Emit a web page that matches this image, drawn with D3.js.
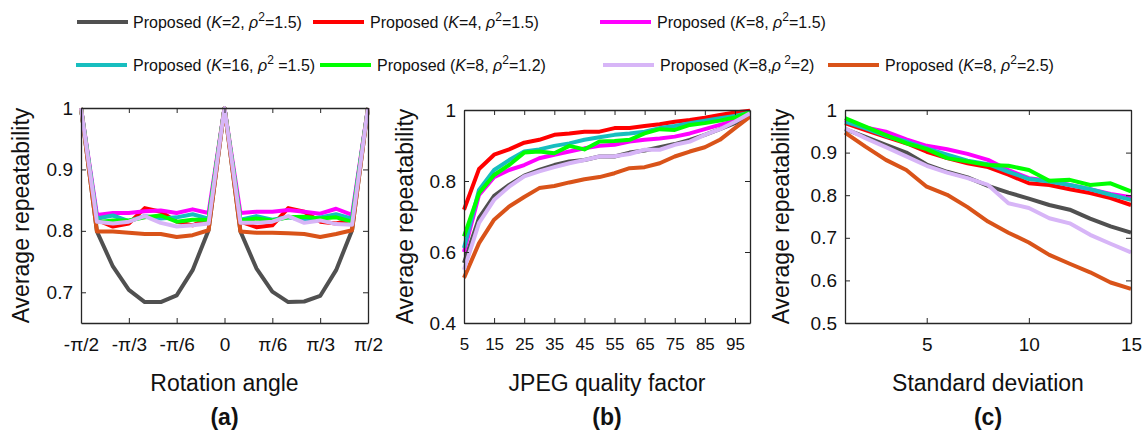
<!DOCTYPE html>
<html>
<head>
<meta charset="utf-8">
<script src="https://cdn.jsdelivr.net/npm/d3@7"></script>
<style>
  body { margin: 0; background: #fff; }
  svg { font-family: "Liberation Sans", Arial, sans-serif; }
</style>
</head>
<body>
<div id="chart"></div>
<script>
// Series names (legend) and colours
const seriesKeys = ["k2", "k4", "k8", "k16", "r12", "r2", "r25"];
const seriesColors = {
  k2: "#505050", k4: "#ff0000", k8: "#ff00ff", k16: "#17bebf",
  r12: "#00ff00", r2: "#d7b5f7", r25: "#d95319"
};
// draw order (lavender ends up on top in panel a)
const drawOrder = ["k2", "k4", "k8", "k16", "r12", "r25", "r2"];

// Panel (a): rotation angle in degrees
const angleX = [-90, -80, -70, -60, -50, -40, -30, -20, -10, 0, 10, 20, 30, 40, 50, 60, 70, 80, 90];
const angleData = {
  k2:  [1, 0.799, 0.742, 0.704, 0.684, 0.684, 0.695, 0.736, 0.801, 1, 0.799, 0.739, 0.701, 0.684, 0.685, 0.694, 0.736, 0.801, 1],
  k4:  [1, 0.818, 0.807, 0.812, 0.837, 0.831, 0.815, 0.809, 0.820, 1, 0.815, 0.806, 0.809, 0.837, 0.831, 0.815, 0.812, 0.818, 1],
  k8:  [1, 0.826, 0.829, 0.829, 0.832, 0.833, 0.829, 0.835, 0.829, 1, 0.829, 0.831, 0.831, 0.834, 0.831, 0.828, 0.836, 0.826, 1],
  k16: [1, 0.820, 0.825, 0.816, 0.824, 0.820, 0.822, 0.827, 0.820, 1, 0.818, 0.824, 0.818, 0.822, 0.818, 0.822, 0.827, 0.820, 1],
  r12: [1, 0.814, 0.817, 0.817, 0.822, 0.825, 0.815, 0.818, 0.818, 1, 0.817, 0.820, 0.817, 0.822, 0.823, 0.820, 0.822, 0.815, 1],
  r2:  [1, 0.815, 0.812, 0.815, 0.824, 0.813, 0.807, 0.809, 0.812, 1, 0.813, 0.813, 0.815, 0.824, 0.813, 0.817, 0.811, 0.810, 1],
  r25: [1, 0.799, 0.799, 0.797, 0.795, 0.795, 0.790, 0.793, 0.801, 1, 0.799, 0.797, 0.797, 0.796, 0.795, 0.790, 0.795, 0.801, 1]
};
const angleTicks = [-90, -60, -30, 0, 30, 60, 90];
const angleTickLabels = ["-\u03c0/2", "-\u03c0/3", "-\u03c0/6", "0", "\u03c0/6", "\u03c0/3", "\u03c0/2"];

// Panel (b): JPEG quality factor
const jpegX = [5, 10, 15, 20, 25, 30, 35, 40, 45, 50, 55, 60, 65, 70, 75, 80, 85, 90, 95, 100];
const jpegData = {
  k2:  [0.569, 0.696, 0.758, 0.789, 0.815, 0.831, 0.845, 0.855, 0.859, 0.869, 0.869, 0.880, 0.886, 0.895, 0.904, 0.916, 0.930, 0.946, 0.963, 0.986],
  k4:  [0.719, 0.834, 0.874, 0.889, 0.908, 0.916, 0.930, 0.934, 0.939, 0.939, 0.949, 0.949, 0.955, 0.960, 0.967, 0.972, 0.978, 0.986, 0.993, 0.998],
  k8:  [0.600, 0.761, 0.811, 0.831, 0.845, 0.864, 0.874, 0.883, 0.892, 0.899, 0.902, 0.911, 0.916, 0.920, 0.925, 0.934, 0.946, 0.958, 0.970, 0.986],
  k16: [0.611, 0.775, 0.831, 0.859, 0.883, 0.889, 0.899, 0.906, 0.916, 0.923, 0.930, 0.934, 0.939, 0.949, 0.955, 0.963, 0.970, 0.977, 0.983, 0.993],
  r12: [0.644, 0.766, 0.817, 0.845, 0.880, 0.883, 0.878, 0.899, 0.889, 0.911, 0.913, 0.916, 0.934, 0.946, 0.944, 0.958, 0.963, 0.970, 0.979, 0.993],
  r2:  [0.550, 0.682, 0.747, 0.784, 0.813, 0.827, 0.839, 0.850, 0.859, 0.869, 0.870, 0.876, 0.888, 0.888, 0.902, 0.911, 0.930, 0.946, 0.967, 0.991],
  r25: [0.527, 0.625, 0.691, 0.728, 0.755, 0.780, 0.786, 0.796, 0.805, 0.811, 0.822, 0.836, 0.839, 0.850, 0.869, 0.883, 0.895, 0.916, 0.949, 0.981]
};
const jpegTicks = [5, 15, 25, 35, 45, 55, 65, 75, 85, 95];

// Panel (c): noise standard deviation
const noiseX = [1, 2, 3, 4, 5, 6, 7, 8, 9, 10, 11, 12, 13, 14, 15];
const noiseData = {
  k2:  [0.955, 0.937, 0.918, 0.900, 0.872, 0.855, 0.842, 0.822, 0.806, 0.792, 0.777, 0.766, 0.745, 0.727, 0.712],
  k4:  [0.969, 0.953, 0.937, 0.922, 0.902, 0.887, 0.875, 0.866, 0.848, 0.828, 0.824, 0.814, 0.805, 0.793, 0.777],
  k8:  [0.977, 0.959, 0.949, 0.931, 0.916, 0.908, 0.897, 0.883, 0.859, 0.840, 0.834, 0.824, 0.814, 0.803, 0.795],
  k16: [0.973, 0.957, 0.939, 0.926, 0.910, 0.895, 0.881, 0.873, 0.855, 0.838, 0.832, 0.824, 0.814, 0.801, 0.789],
  r12: [0.981, 0.961, 0.941, 0.922, 0.908, 0.887, 0.879, 0.871, 0.869, 0.859, 0.834, 0.836, 0.824, 0.828, 0.809],
  r2:  [0.957, 0.934, 0.913, 0.891, 0.869, 0.853, 0.840, 0.824, 0.781, 0.770, 0.746, 0.734, 0.707, 0.686, 0.666],
  r25: [0.947, 0.914, 0.883, 0.859, 0.820, 0.801, 0.772, 0.738, 0.712, 0.689, 0.660, 0.639, 0.619, 0.595, 0.580]
};
const noiseTicks = [5, 10, 15];

const svg = d3.select("#chart").append("svg")
  .attr("width", 1142)
  .attr("height", 432);

svg.append("rect").attr("width", 1142).attr("height", 432).attr("fill", "#fff");

/////////////////////////// Legend ///////////////////////////
const legendItems = [
  {key: "k2",  x1: 77,  y: 22, tx: 133, K: "2",  r: "=1.5"},
  {key: "k4",  x1: 313, y: 22, tx: 370, K: "4",  r: "=1.5"},
  {key: "k8",  x1: 600, y: 22, tx: 657, K: "8",  r: "=1.5"},
  {key: "k16", x1: 76,  y: 65, tx: 133, K: "16", r: "\u00a0=1.5"},
  {key: "r12", x1: 320, y: 65, tx: 377, K: "8",  r: "=1.2"},
  {key: "r2",  x1: 603, y: 65, tx: 660, K: "8",  r: "=2", tight: true},
  {key: "r25", x1: 828, y: 65, tx: 885, K: "8",  r: "=2.5"}
];

const legend = svg.append("g").attr("class", "legend");
legendItems.forEach(function(d) {
  legend.append("line")
    .attr("x1", d.x1).attr("x2", d.x1 + 51)
    .attr("y1", d.y).attr("y2", d.y)
    .attr("stroke", seriesColors[d.key])
    .attr("stroke-width", 4);
  const t = legend.append("text")
    .attr("x", d.tx).attr("y", d.y + 6)
    .style("font-size", "16px")
    .attr("fill", "#111");
  t.append("tspan").text("Proposed (");
  t.append("tspan").style("font-style", "italic").text("K");
  t.append("tspan").text("=" + d.K + (d.tight ? "," : ",\u00a0"));
  t.append("tspan").style("font-style", "italic").text("\u03c1");
  t.append("tspan").attr("dy", -7).style("font-size", "12px").text((d.tight ? "\u00a0" : "") + "2");
  t.append("tspan").attr("dy", 7).text(d.r + ")");
});

/////////////////////////// Panels ///////////////////////////
function panel(opts) {
  const x = d3.scaleLinear().domain(opts.xDomain).range([opts.left, opts.right]);
  const y = d3.scaleLinear().domain(opts.yDomain).range([opts.bottom, opts.top]);
  const g = svg.append("g");
  const axisColor = "#262626";

  // data lines
  const line = d3.line()
    .x(function(d) { return x(d[0]); })
    .y(function(d) { return y(d[1]); });

  drawOrder.forEach(function(k) {
    g.append("path")
      .datum(opts.xs.map(function(v, i) { return [v, opts.data[k][i]]; }))
      .attr("d", line)
      .attr("fill", "none")
      .attr("stroke", seriesColors[k])
      .attr("stroke-width", 4)
      .attr("stroke-linejoin", "round");
  });

  // box with inward ticks (all four sides)
  const bottomAxis = d3.axisBottom(x).tickValues(opts.xTicks).tickSizeInner(-5).tickSizeOuter(0)
    .tickFormat(function(d, i) { return opts.xLabels ? opts.xLabels[i] : d; }).tickPadding(15);
  const topAxis = d3.axisTop(x).tickValues(opts.xTicks).tickSizeInner(-5).tickSizeOuter(0).tickFormat("");
  const leftAxis = d3.axisLeft(y).tickValues(opts.yTicks).tickSizeInner(-5).tickSizeOuter(0)
    .tickFormat(d3.format("~g")).tickPadding(8);
  const rightAxis = d3.axisRight(y).tickValues(opts.yTicks).tickSizeInner(-5).tickSizeOuter(0).tickFormat("");

  [
    [bottomAxis, "translate(0," + opts.bottom + ")", opts.xTickSize],
    [topAxis, "translate(0," + opts.top + ")", 19],
    [leftAxis, "translate(" + opts.left + ",0)", 19],
    [rightAxis, "translate(" + opts.right + ",0)", 19]
  ].forEach(function(a) {
    const ag = g.append("g").attr("transform", a[1]).call(a[0]);
    ag.select(".domain").attr("stroke", axisColor).attr("stroke-width", 1.3);
    ag.selectAll(".tick line").attr("stroke", axisColor).attr("stroke-width", 1);
    ag.selectAll(".tick text")
      .attr("fill", "#111")
      .style("font-size", a[2] + "px")
      .style("font-family", "'Liberation Sans', Arial, sans-serif");
  });

  const cx = (opts.left + opts.right) / 2;

  // y axis title
  g.append("text")
    .attr("transform", "translate(" + opts.yLabelX + "," + ((opts.top + opts.bottom) / 2) + ") rotate(-90)")
    .attr("text-anchor", "middle")
    .style("font-size", "23px")
    .attr("fill", "#111")
    .text("Average repeatability");

  // x axis title
  g.append("text")
    .attr("x", cx).attr("y", 391)
    .attr("text-anchor", "middle")
    .style("font-size", "23px")
    .attr("fill", "#111")
    .text(opts.xTitle);

  // panel tag
  g.append("text")
    .attr("x", cx).attr("y", 425)
    .attr("text-anchor", "middle")
    .style("font-size", "23px")
    .style("font-weight", "bold")
    .attr("fill", "#111")
    .text(opts.tag);
}

panel({
  left: 81, right: 368, top: 108, bottom: 323,
  xDomain: [-90, 90], yDomain: [0.65, 1],
  xs: angleX, data: angleData,
  xTicks: angleTicks, xLabels: angleTickLabels, xTickSize: 19,
  yTicks: [0.7, 0.8, 0.9, 1],
  yLabelX: 29, xTitle: "Rotation angle", tag: "(a)"
});

panel({
  left: 464, right: 750, top: 110, bottom: 323,
  xDomain: [5, 100], yDomain: [0.4, 1],
  xs: jpegX, data: jpegData,
  xTicks: jpegTicks, xTickSize: 17,
  yTicks: [0.4, 0.6, 0.8, 1],
  yLabelX: 413, xTitle: "JPEG quality factor", tag: "(b)"
});

panel({
  left: 845, right: 1131, top: 110, bottom: 323,
  xDomain: [1, 15], yDomain: [0.5, 1],
  xs: noiseX, data: noiseData,
  xTicks: noiseTicks, xTickSize: 19,
  yTicks: [0.5, 0.6, 0.7, 0.8, 0.9, 1],
  yLabelX: 789, xTitle: "Standard deviation", tag: "(c)"
});
</script>
</body>
</html>
